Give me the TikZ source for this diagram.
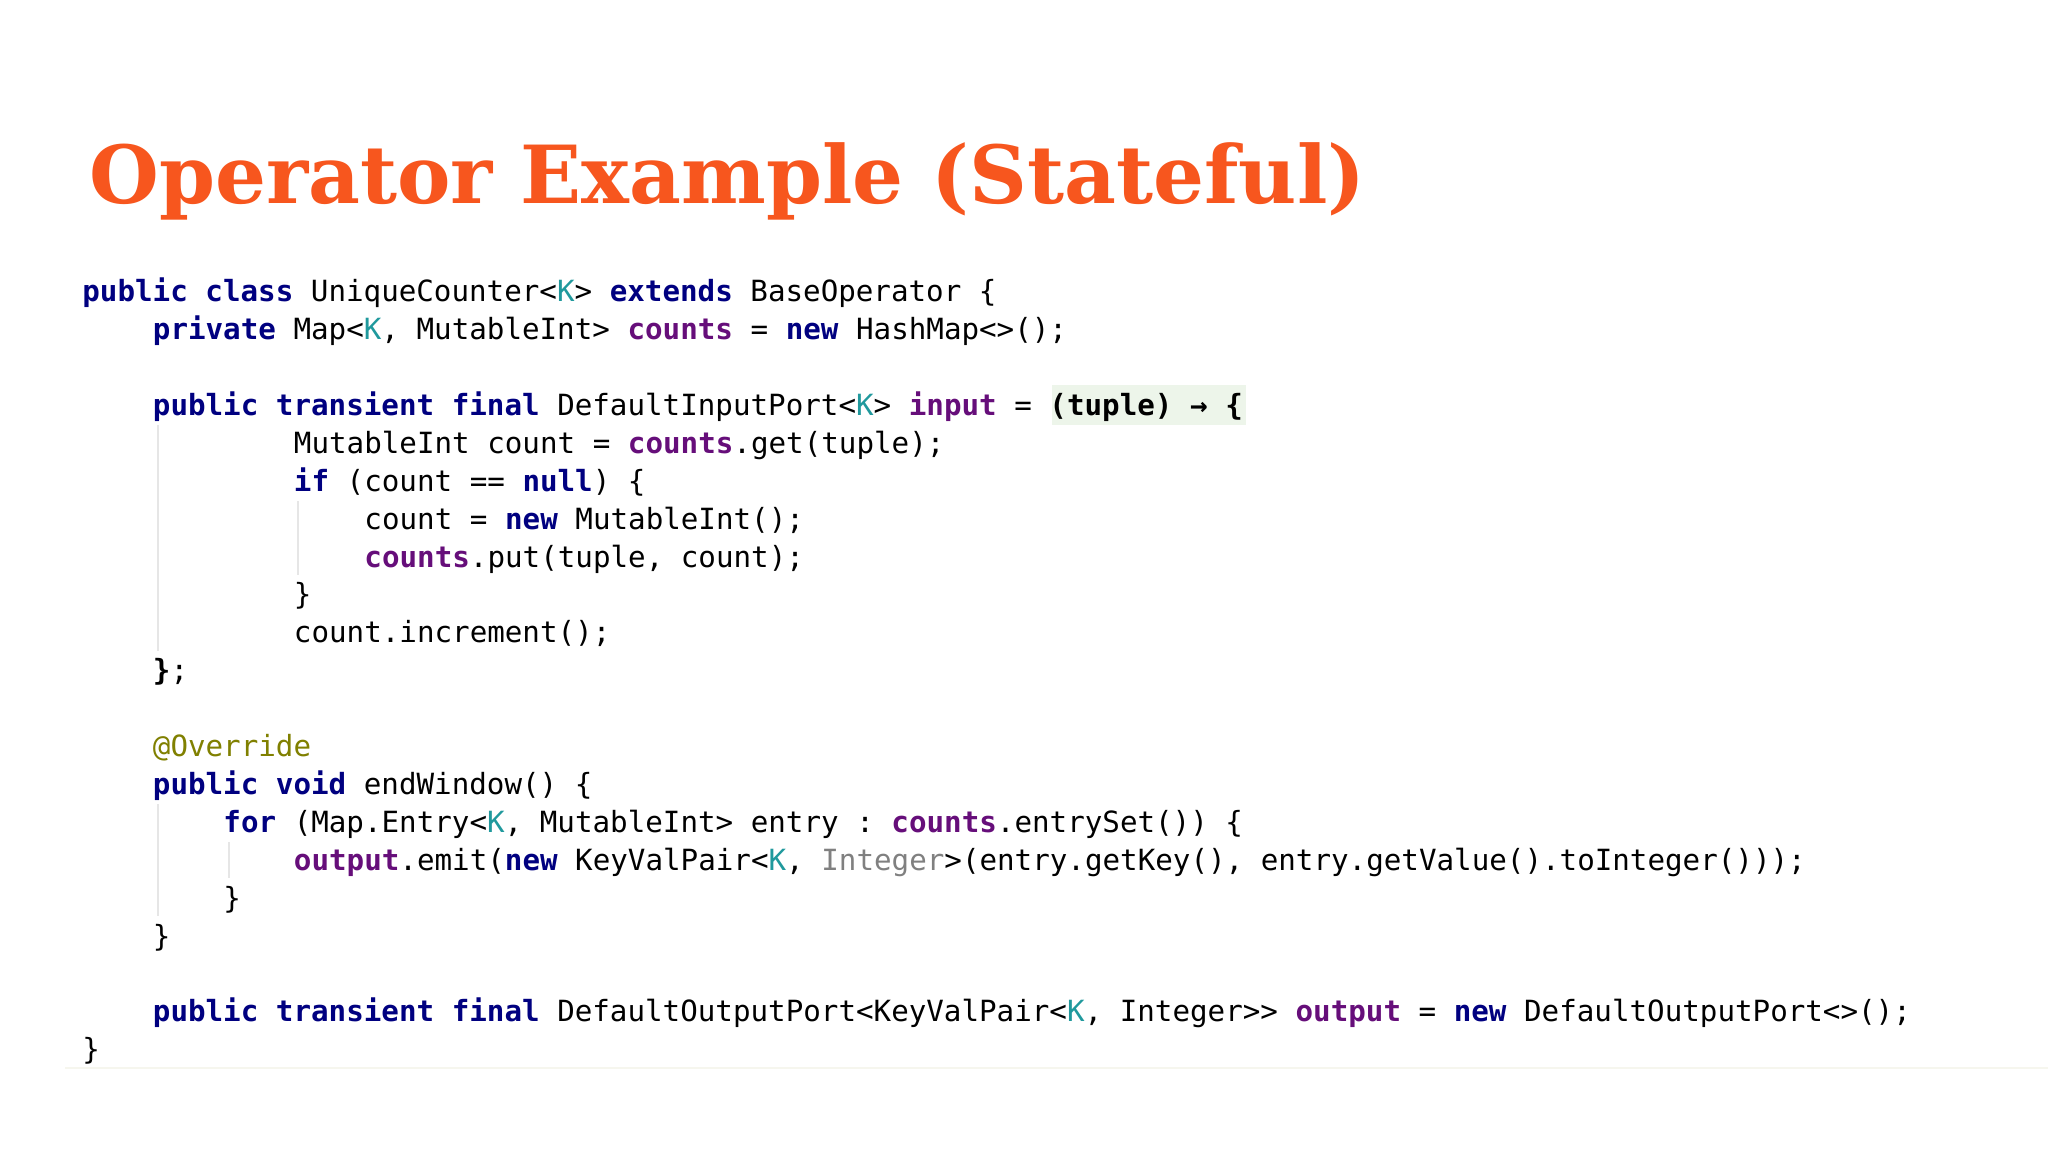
\documentclass[tikz,border=0pt]{standalone}
\usepackage{fontspec}
\setmonofont{DejaVu Sans Mono}
\newfontfamily\titlefont{DejaVu Serif}
\definecolor{kwc}{HTML}{000080}
\definecolor{fdc}{HTML}{660E7A}
\definecolor{tpc}{HTML}{20999D}
\definecolor{grc}{HTML}{808080}
\definecolor{anc}{HTML}{808000}
\definecolor{ttl}{HTML}{F7561E}
\definecolor{hlc}{HTML}{EDF5EA}
\definecolor{gdc}{HTML}{E6E6E6}
\newcommand{\kw}[1]{{\bfseries\color{kwc}#1}}
\newcommand{\fd}[1]{{\bfseries\color{fdc}#1}}
\newcommand{\tp}[1]{{\color{tpc}#1}}
\tikzset{codeline/.style={anchor=base west,inner sep=0pt,font=\ttfamily\fontsize{14.6pt}{17pt}\selectfont,text=black}}
\begin{document}
\begin{tikzpicture}[x=0.5pt,y=-0.5pt]
\useasboundingbox[fill=white] (0,0) rectangle (2048,1152);
\def\cw{17.63}
\def\bl{301.7}
\def\ls{37.9}
% highlight
\fill[hlc] ({82+55*\cw},{\bl+3*\ls-30}) rectangle ({82+66*\cw},{\bl+3*\ls+10});
% guides
\draw[gdc,line width=1pt] (158,{\bl+4*\ls-28}) -- (158,{\bl+9*\ls+8});
\draw[gdc,line width=1pt] (298,{\bl+6*\ls-28}) -- (298,{\bl+7*\ls+8});
\draw[gdc,line width=1pt] (158,{\bl+14*\ls-28}) -- (158,{\bl+16*\ls+8});
\draw[gdc,line width=1pt] (229,{\bl+15*\ls-28}) -- (229,{\bl+15*\ls+8});
\draw[color={rgb,255:red,246;green,246;blue,238},line width=1pt] (65,1068) -- (2048,1068);
% title
\node[anchor=base west,inner sep=0pt,text=ttl] (title) at (89,203) {\resizebox{638pt}{!}{\titlefont\bfseries Operator Example (Stateful)}};
% code
\node[codeline] (l0) at ({82+0*\cw},{\bl+0*\ls}) {\kw{public} \kw{class} UniqueCounter<\tp{K}> \kw{extends} BaseOperator \{};
\node[codeline] (l1) at ({82+4*\cw},{\bl+1*\ls}) {\kw{private} Map<\tp{K}, MutableInt> \fd{counts} = \kw{new} HashMap<>();};
\node[codeline] (l3) at ({82+4*\cw},{\bl+3*\ls}) {\kw{public} \kw{transient} \kw{final} DefaultInputPort<\tp{K}> \fd{input} = \textbf{(tuple) → \{}};
\node[codeline] (l4) at ({82+12*\cw},{\bl+4*\ls}) {MutableInt count = \fd{counts}.get(tuple);};
\node[codeline] (l5) at ({82+12*\cw},{\bl+5*\ls}) {\kw{if} (count == \kw{null}) \{};
\node[codeline] (l6) at ({82+16*\cw},{\bl+6*\ls}) {count = \kw{new} MutableInt();};
\node[codeline] (l7) at ({82+16*\cw},{\bl+7*\ls}) {\fd{counts}.put(tuple, count);};
\node[codeline] (l8) at ({82+12*\cw},{\bl+8*\ls}) {\}};
\node[codeline] (l9) at ({82+12*\cw},{\bl+9*\ls}) {count.increment();};
\node[codeline] (l10) at ({82+4*\cw},{\bl+10*\ls}) {\textbf{\}};};
\node[codeline] (l12) at ({82+4*\cw},{\bl+12*\ls}) {{\color{anc}@Override}};
\node[codeline] (l13) at ({82+4*\cw},{\bl+13*\ls}) {\kw{public} \kw{void} endWindow() \{};
\node[codeline] (l14) at ({82+8*\cw},{\bl+14*\ls}) {\kw{for} (Map.Entry<\tp{K}, MutableInt> entry : \fd{counts}.entrySet()) \{};
\node[codeline] (l15) at ({82+12*\cw},{\bl+15*\ls}) {\fd{output}.emit(\kw{new} KeyValPair<\tp{K}, {\color{grc}Integer}>(entry.getKey(), entry.getValue().toInteger()));};
\node[codeline] (l16) at ({82+8*\cw},{\bl+16*\ls}) {\}};
\node[codeline] (l17) at ({82+4*\cw},{\bl+17*\ls}) {\}};
\node[codeline] (l19) at ({82+4*\cw},{\bl+19*\ls}) {\kw{public} \kw{transient} \kw{final} DefaultOutputPort<KeyValPair<\tp{K}, Integer>> \fd{output} = \kw{new} DefaultOutputPort<>();};
\node[codeline] (l20) at ({82+0*\cw},{\bl+20*\ls}) {\}};
\end{tikzpicture}
\end{document}
